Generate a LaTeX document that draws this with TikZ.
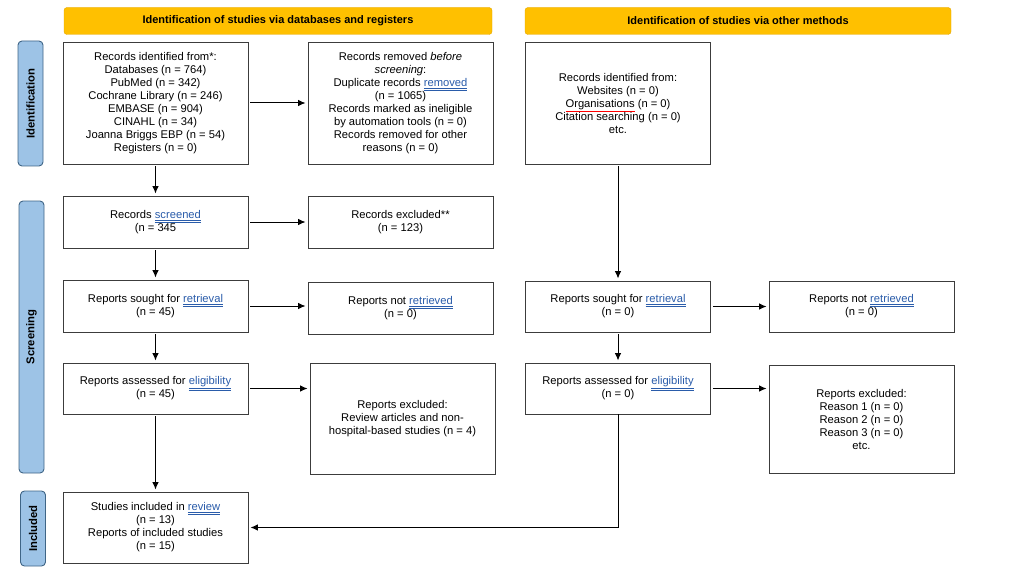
\documentclass[tikz,border=0pt]{standalone}
\usepackage{fontspec}
\setmainfont{Liberation Sans}
\usetikzlibrary{arrows.meta,positioning}
\definecolor{prismaorange}{HTML}{FFC000}
\definecolor{prismaedge}{HTML}{E3A600}
\definecolor{phaseblue}{HTML}{9DC3E6}
\definecolor{phaseedge}{HTML}{3F6586}
\definecolor{boxgray}{HTML}{3C3C3C}
\definecolor{spellblue}{HTML}{2A5CAA}
\newcommand{\spell}[1]{\textcolor{spellblue}{$\smash{\underline{\underline{\hbox{#1}}}}$}}
\newcommand{\redmark}[1]{\textcolor{red}{$\smash{\underline{\hbox{\color{black}#1}}}$}}

\begin{document}
\begin{tikzpicture}[x=1pt,y=-1pt,>=Latex,
  banner/.style={rounded corners=3pt,draw=prismaedge,fill=prismaorange,minimum height=27pt,
    inner sep=2pt,font=\fontsize{11}{12}\selectfont\bfseries},
  phase/.style={rounded corners=4pt,draw=phaseedge,fill=phaseblue,line width=0.9pt,
    minimum height=25pt,rotate=90,inner sep=1pt,font=\fontsize{11.3}{12}\selectfont\bfseries},
  rec/.style={draw=boxgray,fill=white,line width=0.9pt,minimum width=185pt,align=center,
    inner sep=2pt,font=\fontsize{11.2}{13}\selectfont},
  a/.style={-{Latex[length=7.5pt,width=6.5pt]},line width=1pt,shorten <=2pt,shorten >=2pt}]
\useasboundingbox (0,0) rectangle (1024,572);
% headers
\node[banner,minimum width=428pt] (ban1) at (278,21) {Identification of studies via databases and registers};
\node[banner,minimum width=426pt] (ban2) at (738,21) {Identification of studies via other methods};
% phases
\node[phase,minimum width=125pt] (ph1) at (30.5,103.5) {Identification};
\node[phase,minimum width=272pt] (ph2) at (31.5,337) {Screening};
\node[phase,minimum width=75pt] (ph3) at (33,528.5) {Included};
% databases and registers
\node[rec,minimum height=122pt] (id1) at (155.5,103)
  {Records identified from*:\\Databases (n = 764)\\PubMed (n = 342)\\Cochrane Library (n = 246)\\EMBASE (n = 904)\\CINAHL (n = 34)\\Joanna Briggs EBP (n = 54)\\Registers (n = 0)};
\node[rec,minimum height=122pt] (rem) at (400.5,103)
  {Records removed \textit{before}\\\textit{screening}:\\Duplicate records \spell{removed}\\(n = 1065)\\Records marked as ineligible\\by automation tools (n = 0)\\Records removed for other\\reasons (n = 0)};
\node[rec,minimum height=52pt] (scr) at (155.5,222) {Records \spell{screened}\\(n = 345};
\node[rec,minimum height=52pt] (exc) at (400.5,222) {Records excluded**\\(n = 123)};
\node[rec,minimum height=52pt] (sou1) at (155.5,306) {Reports sought for \spell{retrieval}\\(n = 45)};
\node[rec,minimum height=52pt] (nr1) at (400.5,308) {Reports not \spell{retrieved}\\(n = 0)};
\node[rec,minimum height=51pt] (ass1) at (155.5,388.5) {Reports assessed for \spell{eligibility}\\(n = 45)};
\node[rec,minimum height=111pt] (ex1) at (402.5,418.5)
  {Reports excluded:\\Review articles and non-\\hospital-based studies (n = 4)};
\node[rec,minimum height=71pt] (inc) at (155.5,527.5)
  {Studies included in \spell{review}\\(n = 13)\\Reports of included studies\\(n = 15)};
% other methods
\node[rec,minimum height=122pt] (id2) at (618,103)
  {Records identified from:\\Websites (n = 0)\\\redmark{Organisations} (n = 0)\\Citation searching (n = 0)\\etc.};
\node[rec,minimum height=51pt] (sou2) at (618,306.5) {Reports sought for \spell{retrieval}\\(n = 0)};
\node[rec,minimum height=51pt] (nr2) at (861.5,306.5) {Reports not \spell{retrieved}\\(n = 0)};
\node[rec,minimum height=51pt] (ass2) at (618,388.5) {Reports assessed for \spell{eligibility}\\(n = 0)};
\node[rec,minimum height=108pt] (ex2) at (861.5,419)
  {Reports excluded:\\Reason 1 (n = 0)\\Reason 2 (n = 0)\\Reason 3 (n = 0)\\etc.};
% connectors
\draw[a] (id1)--(rem); \draw[a] (id1)--(scr);
\draw[a] (scr)--(exc); \draw[a] (scr)--(sou1);
\draw[a] (sou1.east)--(sou1.east -| nr1.west); \draw[a] (sou1)--(ass1);
\draw[a] (ass1.east)--(ass1.east -| ex1.west); \draw[a] (ass1)--(inc);
\draw[a] (id2)--(sou2);
\draw[a] (sou2)--(nr2); \draw[a] (sou2)--(ass2);
\draw[a] (ass2.east)--(ass2.east -| ex2.west);
\draw[a,shorten <=0pt] (ass2.south)--(ass2.south |- inc.east)--(inc.east);
\end{tikzpicture}
\end{document}
